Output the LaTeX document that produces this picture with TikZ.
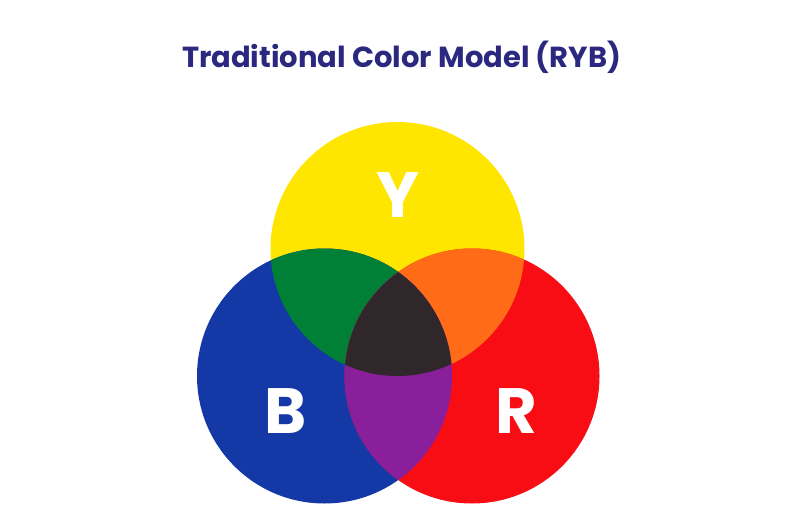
\documentclass[tikz,border=0pt]{standalone}
\usepackage{fontspec}
\setmainfont{Poppins}
\definecolor{ttl}{HTML}{2B2880}
\definecolor{cy}{HTML}{FFE600}
\definecolor{cb}{HTML}{1438A6}
\definecolor{cr}{HTML}{F70D13}
\definecolor{cg}{HTML}{008037}
\definecolor{co}{HTML}{FF6B16}
\definecolor{cp}{HTML}{8A1F9C}
\definecolor{ck}{HTML}{30272A}
\begin{document}
\begin{tikzpicture}[x=1pt,y=-1pt,
  letter/.style={text=white,font=\fontsize{64}{64}\selectfont\bfseries,inner sep=0pt}]
\useasboundingbox (0,0) rectangle (803,527);
\def\Y{(397.5,249) circle[radius=127]}
\def\B{(324.5,376) circle[radius=127.5]}
\def\R{(472,376) circle[radius=127.5]}
\fill[cy] \Y;
\fill[cb] \B;
\fill[cr] \R;
\begin{scope}\clip \Y; \fill[cg] \B; \end{scope}
\begin{scope}\clip \Y; \fill[co] \R; \end{scope}
\begin{scope}\clip \B; \fill[cp] \R; \end{scope}
\begin{scope}\clip \Y; \clip \B; \fill[ck] \R; \end{scope}
\node[text=ttl,font=\fontsize{29}{29}\selectfont\bfseries] (title) at (401.5,57) {Traditional Color Model (RYB)};
\node[letter] (ly) at (398,195) {Y};
\node[letter] (lb) at (286,411.5) {B};
\node[letter] (lr) at (516.5,411.5) {R};
\end{tikzpicture}
\end{document}
